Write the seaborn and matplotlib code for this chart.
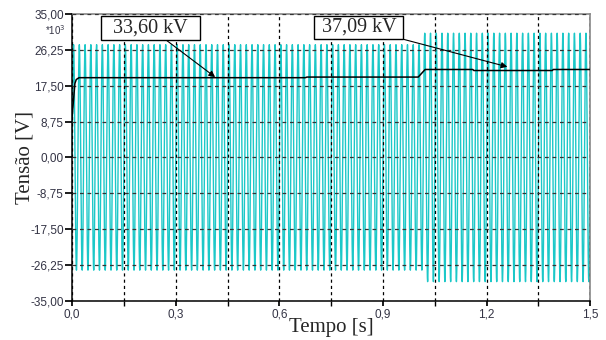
import numpy as np
import pandas as pd
import matplotlib.pyplot as plt
import seaborn as sns
from matplotlib.ticker import FuncFormatter, MultipleLocator

# voltage waveform, 60 Hz, peak values (x10^3 V)
freq = 60.0
seg_start = [0.0, 1.015]
seg_peak = [27.5, 30.3]

# rms curve (s, x10^3 V)
rms_t = [0.0, 0.004, 0.008, 0.012, 0.02, 0.675, 0.68, 1.002, 1.022,
         1.16, 1.163, 1.39, 1.393, 1.5]
rms_v = [10.0, 14.0, 18.0, 19.0, 19.45, 19.45, 19.6, 19.6, 21.45,
         21.45, 21.2, 21.2, 21.45, 21.45]

labels = ["33,60 kV", "37,09 kV"]

sns.set_theme(style="white")
plt.rcParams["font.family"] = ["Liberation Sans", "DejaVu Sans"]

t = np.arange(0, 1.5, 1 / 6000)
peak = np.where(t < seg_start[1], seg_peak[0], seg_peak[1])
wave = pd.DataFrame({"t": t, "v": peak * np.sin(2 * np.pi * freq * t)})
rms = pd.DataFrame({"t": rms_t, "v": rms_v})

fig, ax = plt.subplots(figsize=(6.06, 3.40), dpi=100)
fig.subplots_adjust(left=0.119, right=0.974, top=0.959, bottom=0.115)

sns.lineplot(data=wave, x="t", y="v", ax=ax, color="#1cc8c8", lw=1.0,
             estimator=None, zorder=2)
sns.lineplot(data=rms, x="t", y="v", ax=ax, color="black", lw=1.1,
             estimator=None, zorder=4)

ax.set_xlim(0, 1.5)
ax.set_ylim(-35, 35)
ax.xaxis.set_major_locator(MultipleLocator(0.3))
ax.xaxis.set_minor_locator(MultipleLocator(0.15))
ax.yaxis.set_major_locator(MultipleLocator(8.75))
ax.xaxis.set_major_formatter(FuncFormatter(lambda v, p: f"{v:.1f}".replace(".", ",")))
ax.yaxis.set_major_formatter(FuncFormatter(lambda v, p: f"{v:.2f}".replace(".", ",")))

ax.set_axisbelow(False)
ax.grid(True, which="both", axis="x", color="black", ls=(0, (2.5, 2.5)), lw=0.9)
ax.grid(True, which="major", axis="y", color="#333333", ls=(0, (3, 3)), lw=0.9)

ax.tick_params(axis="both", which="both", direction="out", labelsize=8.5,
               labelcolor="#333344", color="black", bottom=True, left=True)
ax.tick_params(axis="y", length=5, pad=1)
ax.tick_params(axis="x", which="both", length=3.5, pad=2)

for s in ["left", "bottom"]:
    ax.spines[s].set_color("black")
    ax.spines[s].set_linewidth(1.1)
for s in ["top", "right"]:
    ax.spines[s].set_color("#888888")
    ax.spines[s].set_linewidth(1.2)

ax.set_xlabel("Tempo [s]", family="Liberation Serif", fontsize=15, labelpad=-2)
ax.set_ylabel("Tensão [V]", family="Liberation Serif", fontsize=15, labelpad=-3)
ax.text(-0.012, 0.945, "*10$^3$", transform=ax.transAxes, ha="right",
        va="center", fontsize=7, color="#333344")

box = dict(boxstyle="square,pad=0.12", fc="white", ec="black", lw=1)
ax.annotate("  " + labels[0] + "  ", xy=(0.414, 19.6), xytext=(0.227, 31.5),
            ha="center", va="center", family="Liberation Serif", fontsize=14.5,
            bbox=box, zorder=6,
            arrowprops=dict(arrowstyle="-|>", color="black", lw=0.8,
                            shrinkA=0, shrinkB=0, mutation_scale=9))
ax.annotate(" " + labels[1] + " ", xy=(1.26, 22.1), xytext=(0.83, 31.7),
            ha="center", va="center", family="Liberation Serif", fontsize=14.5,
            bbox=box, zorder=6,
            arrowprops=dict(arrowstyle="-|>", color="black", lw=0.8,
                            shrinkA=0, shrinkB=0, mutation_scale=9))

fig.savefig("out.png", dpi=100)
